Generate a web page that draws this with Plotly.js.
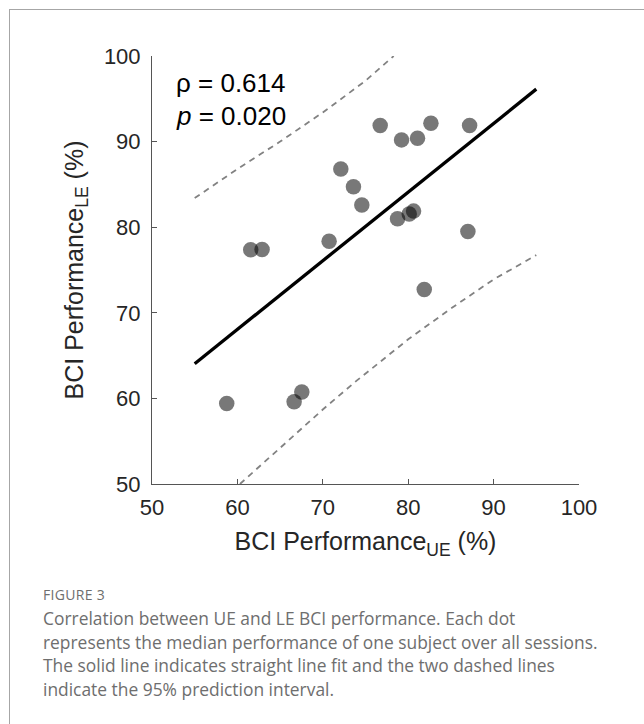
<!DOCTYPE html>
<html>
<head>
<meta charset="utf-8">
<script src="https://cdn.plot.ly/plotly-3.0.1.min.js"></script>
<style>
  html, body { margin: 0; padding: 0; background: #fff; }
  #wrap { position: relative; width: 644px; height: 724px; overflow: hidden; }
  #frame { position: absolute; left: 9px; top: 9px; width: 700px; height: 800px;
           border-left: 1.5px solid #a6a6a6; border-top: 1.5px solid #a6a6a6; }
  #chart { position: absolute; left: 0; top: 0; width: 644px; height: 724px; }
  #caption { position: absolute; left: 43px; top: 583px; width: 595px;
             font-family: "Open Sans", sans-serif; color: #6e6e6e; }
  #caption .fig { font-size: 14px; letter-spacing: 0.3px; line-height: 24px; }
  #caption .txt { font-size: 17.4px; line-height: 23.7px; white-space: nowrap; }
</style>
</head>
<body>
<div id="wrap">
  <div id="frame"></div>
  <div id="chart"></div>
  <div id="caption">
    <div class="fig">FIGURE 3</div>
    <div class="txt">Correlation between UE and LE BCI performance. Each dot<br>represents the median performance of one subject over all sessions.<br>The solid line indicates straight line fit and the two dashed lines<br>indicate the 95% prediction interval.</div>
  </div>
</div>
<script>
// Subject medians (UE vs LE BCI performance, %)
const perfUE = [58.75, 61.56, 62.89, 66.64, 67.54, 70.74, 72.11, 73.59, 74.57, 76.72,
                78.75, 79.22, 80.12, 80.63, 81.09, 81.88, 82.66, 86.99, 87.19];
const perfLE = [59.41, 77.36, 77.40, 59.61, 60.74, 78.37, 86.80, 84.73, 82.59, 91.87,
                80.99, 90.20, 81.54, 81.88, 90.39, 72.72, 92.15, 79.50, 91.87];

// Straight line fit (endpoints)
const fitX = [55, 95];
const fitY = [64.05, 96.13];

// 95% prediction interval bounds
const upperX = [55, 60, 65, 67.7, 70, 75, 78.3];
const upperY = [83.4, 86.8, 90.0, 91.8, 93.4, 97.1, 100.0];
const lowerX = [60.3, 65, 70, 74, 75, 79.1, 80, 85, 86.5, 90, 95];
const lowerY = [50.0, 54.2, 58.7, 62.1, 62.9, 66.2, 66.9, 70.5, 71.5, 73.9, 76.74];

const tickVals = [50, 60, 70, 80, 90, 100];
const tickText = ['50', '60', '70', '80', '90', '100'];

const FONT = 'Liberation Sans, Arial, Helvetica, sans-serif';
const INK = '#262626';
const AX = '#555555';

const traces = [
  { x: upperX, y: upperY, mode: 'lines', line: { color: '#828282', width: 1.8, dash: '6px,5px' },
    hoverinfo: 'skip', showlegend: false },
  { x: lowerX, y: lowerY, mode: 'lines', line: { color: '#828282', width: 1.8, dash: '6px,5px' },
    hoverinfo: 'skip', showlegend: false },
  { x: fitX, y: fitY, mode: 'lines', line: { color: '#000000', width: 3.3 },
    showlegend: false },
  { x: perfUE, y: perfLE, mode: 'markers', type: 'scatter',
    marker: { size: 15.5, color: 'rgba(0,0,0,0.53)', line: { width: 0 } },
    showlegend: false }
];

const axisCommon = {
  range: [50, 100], tickmode: 'array', tickvals: tickVals, ticktext: tickText,
  ticks: 'inside', ticklen: 5, tickwidth: 1, tickcolor: AX,
  showline: true, linecolor: AX, linewidth: 1, mirror: false,
  showgrid: false, zeroline: false,
  tickfont: { family: FONT, size: 22, color: INK }
};

const layout = {
  width: 644, height: 724,
  margin: { l: 152, r: 65, t: 56, b: 240 },
  paper_bgcolor: 'rgba(0,0,0,0)', plot_bgcolor: 'rgba(0,0,0,0)',
  showlegend: false,
  xaxis: Object.assign({}, axisCommon, {
    ticklabelstandoff: 4,
    title: { text: 'BCI Performance<sub>UE</sub> (%)', standoff: 13,
             font: { family: FONT, size: 25, color: INK } }
  }),
  yaxis: Object.assign({}, axisCommon, {
    ticklabelstandoff: 6,
    title: { text: 'BCI Performance<sub>LE</sub> (%)', standoff: 13,
             font: { family: FONT, size: 25, color: INK } }
  }),
  annotations: [
    { x: 52.6, y: 96.8, xref: 'x', yref: 'y', xanchor: 'left', yanchor: 'middle',
      text: 'ρ = 0.614', showarrow: false, font: { family: FONT, size: 26, color: '#000' } },
    { x: 52.6, y: 93.0, xref: 'x', yref: 'y', xanchor: 'left', yanchor: 'middle',
      text: '<i>p</i> = 0.020', showarrow: false, font: { family: FONT, size: 26, color: '#000' } }
  ]
};

Plotly.newPlot('chart', traces, layout, { staticPlot: true, displayModeBar: false });
</script>
</body>
</html>
